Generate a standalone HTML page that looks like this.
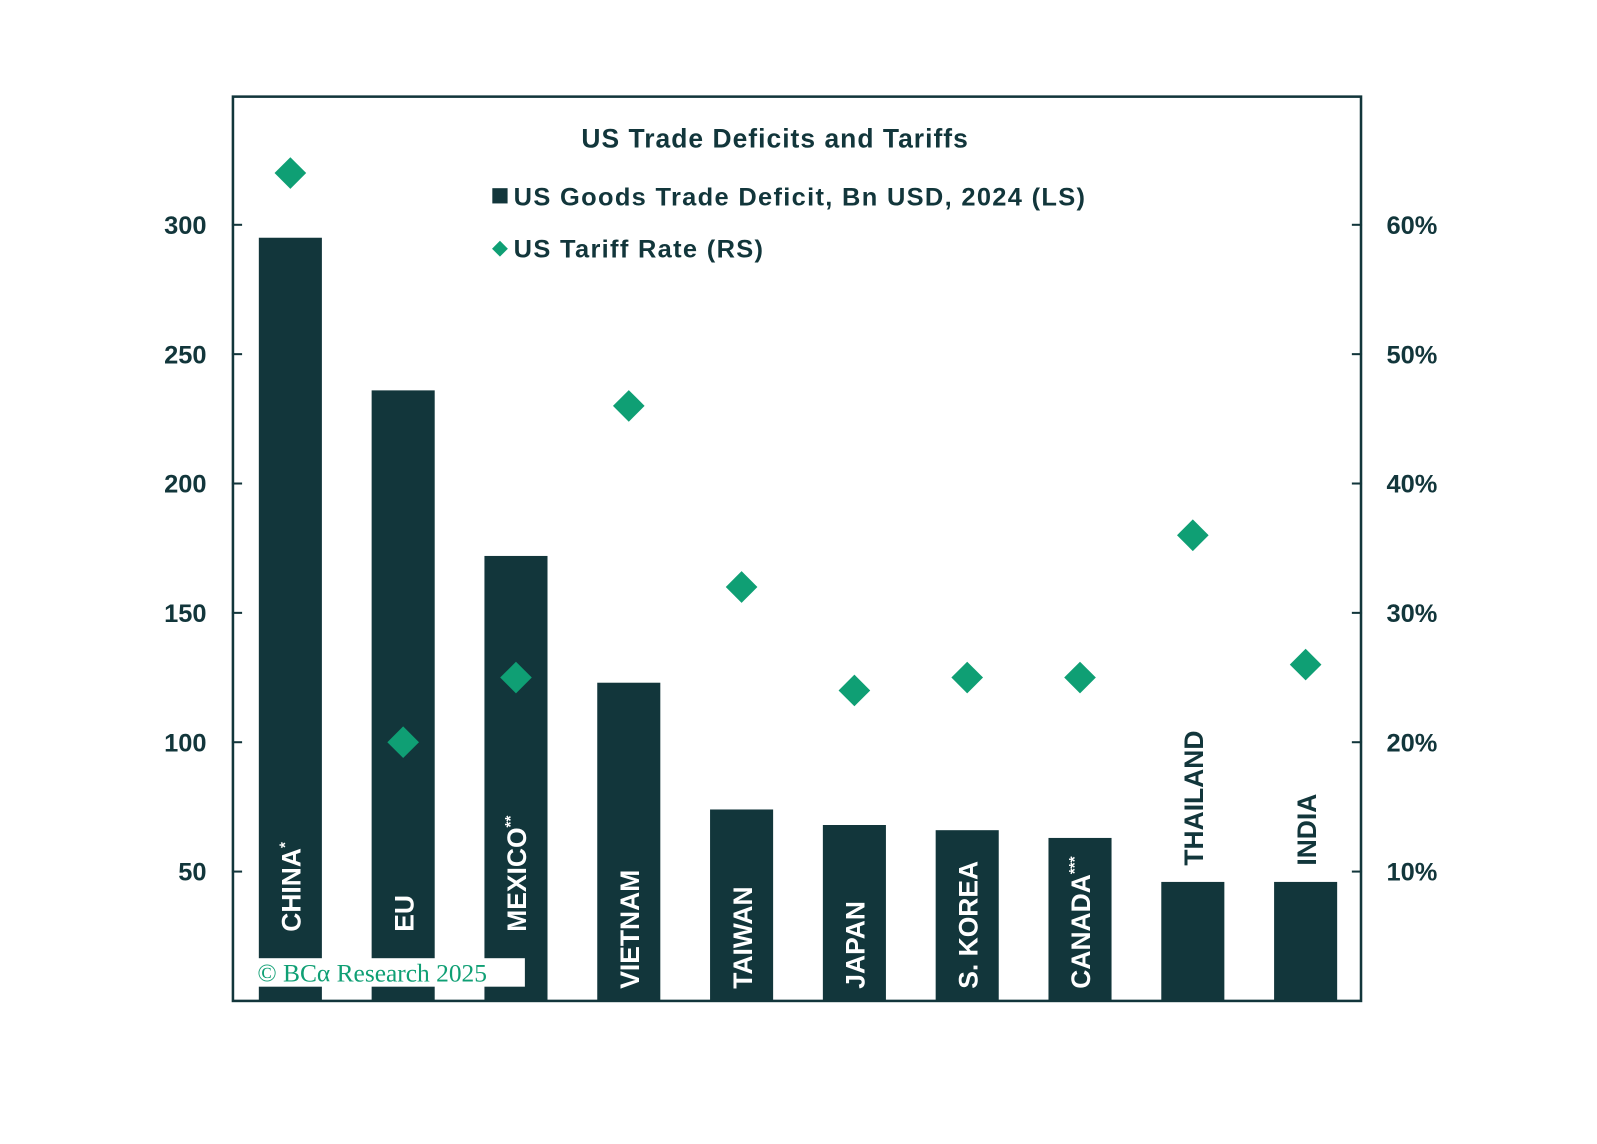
<!DOCTYPE html>
<html><head><meta charset="utf-8">
<style>
body{margin:0;background:#fff;}
svg{display:block;font-family:"Liberation Sans",sans-serif;}
</style></head>
<body>
<svg id="chart" width="1597" height="1144" viewBox="0 0 1597 1144">
<g transform="scale(1.0172)">
<rect x="229" y="95" width="1109" height="889" fill="#fff" stroke="#12363b" stroke-width="2.5"/>
<text x="762" y="145" text-anchor="middle" font-size="26" font-weight="bold" letter-spacing="1" fill="#12363b">US Trade Deficits and Tariffs</text>
<g id="bars"></g>
<g id="labels"></g>
<g id="dots"></g>
<g id="axes"></g>
<g>
<rect x="484" y="185" width="15" height="15" fill="#12363b"/>
<text x="505" y="202" font-size="25" font-weight="bold" letter-spacing="1.3" fill="#12363b">US Goods Trade Deficit, Bn USD, 2024 (LS)</text>
<rect x="486" y="239" width="11" height="11" fill="#0f9f74" transform="rotate(45 491.5 244.5)"/>
<text x="505" y="253" font-size="25" font-weight="bold" letter-spacing="1.3" fill="#12363b">US Tariff Rate (RS)</text>
</g>
<g>
<rect x="250" y="942" width="266" height="28" fill="#fff"/>
<text x="253" y="965" font-family="Liberation Serif, serif" font-size="25" fill="#0f9f74">© BCα Research 2025</text>
</g>
</g>
</svg>
<script>
const categories=["CHINA","EU","MEXICO","VIETNAM","TAIWAN","JAPAN","S. KOREA","CANADA","THAILAND","INDIA"];
const sups=["*","","**","","","","","***","",""];
const deficits=[295,236,172,123,74,68,66,63,46,46];
const tariffs=[64,20,25,46,32,24,25,25,36,26];
const leftTicks=[50,100,150,200,250,300];
const rightTicks=[10,20,30,40,50,60];
const NS="http://www.w3.org/2000/svg";
const x0=229,x1=1338,yBot=984,yTop=221;
const yL=v=>yBot-(v/300)*(yBot-yTop);
const yR=v=>yBot-(v/60)*(yBot-yTop);
const band=(x1-x0)/categories.length;
const xC=i=>x0+band*(i+0.5)+1;
function mk(t,a,p){const e=document.createElementNS(NS,t);for(const k in a)e.setAttribute(k,a[k]);p.appendChild(e);return e;}
const bars=document.getElementById('bars'),labels=document.getElementById('labels'),dots=document.getElementById('dots'),axes=document.getElementById('axes');
categories.forEach((c,i)=>{
  const b=mk('rect',{x:xC(i)-31,y:yL(deficits[i]),width:62,height:yBot-yL(deficits[i]),fill:'#12363b'},bars);
  
  
  const inside=yBot-yL(deficits[i])>150;
  const yEnd=inside?(i<3?916:972):yL(deficits[i])-16;
  const t=mk('text',{transform:`translate(${xC(i)+10},${yEnd}) rotate(-90)`,'font-size':26,'font-weight':'bold',fill:inside?'#fff':'#12363b'},labels);
  t.textContent=c;
  if(sups[i]){const s=mk('tspan',{'font-size':15,dy:-10},t);s.textContent=sups[i];}
  
  
  const d=mk('rect',{x:xC(i)-11,y:yR(tariffs[i])-11,width:22,height:22,fill:'#0f9f74',transform:`rotate(45 ${xC(i)} ${yR(tariffs[i])})`},dots);
  
  
});
leftTicks.forEach(v=>{
  mk('line',{x1:x0-1,x2:x0+9,y1:yL(v),y2:yL(v),stroke:'#12363b','stroke-width':2},axes);
  const t=mk('text',{x:203,y:yL(v)+9,'text-anchor':'end','font-size':25,'font-weight':'bold',fill:'#12363b'},axes);
  t.textContent=v;
  
  
});
rightTicks.forEach(v=>{
  mk('line',{x1:x1-9,x2:x1+1,y1:yR(v),y2:yR(v),stroke:'#12363b','stroke-width':2},axes);
  const t=mk('text',{x:1363,y:yR(v)+9,'font-size':25,'font-weight':'bold',fill:'#12363b'},axes);
  t.textContent=v+'%';
  
  
});
</script>
</body></html>
